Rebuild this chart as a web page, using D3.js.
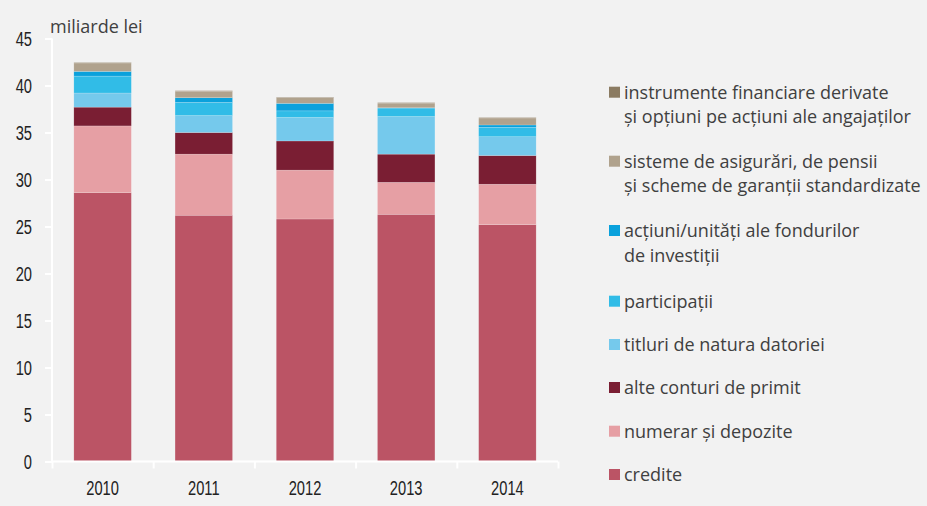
<!DOCTYPE html>
<meta charset="utf-8">
<head>
<style>
body {
  margin: 0;
  background: #fff;
}

svg {
  display: block;
  background: #f2f2f2;
}

.axis {
  font-family: 'Liberation Sans', Arial, sans-serif;
  font-size: 21px;
}

.axis path,
.axis line {
  fill: none;
  stroke: #fff;
  stroke-width: 2;
}

.axis text {
  fill: #222;
}

.legend text,
.unit {
  font-family: 'Open Sans', 'Noto Sans', sans-serif;
  font-size: 18px;
  fill: #404040;
}
</style>
</head>

<body>
<div id="chart"></div>

<script src="https://cdn.jsdelivr.net/npm/d3@7"></script>
<script>

var years = ["2010", "2011", "2012", "2013", "2014"];

// values in miliarde lei
var credite      = [28.6, 26.2, 25.8, 26.3, 25.2];
var numerar      = [7.1, 6.5, 5.2, 3.4, 4.3];
var alteConturi  = [2.0, 2.3, 3.1, 3.0, 3.05];
var titluri      = [1.5, 1.8, 2.5, 4.0, 2.0];
var participatii = [1.8, 1.4, 0.7, 0.9, 1.0];
var actiuniFond  = [0.5, 0.5, 0.8, 0.03, 0.25];
var sisteme      = [0.9, 0.7, 0.6, 0.5, 0.75];
var derivate     = [0.05, 0.05, 0.05, 0.05, 0.05];

var yTicks = [0, 5, 10, 15, 20, 25, 30, 35, 40, 45];

var series = [
  {key: "credite", values: credite, color: "#bb5465", label: ["credite"]},
  {key: "numerar", values: numerar, color: "#e69fa4", label: ["numerar și depozite"]},
  {key: "alte", values: alteConturi, color: "#7a1e33", label: ["alte conturi de primit"]},
  {key: "titluri", values: titluri, color: "#75c9ec", label: ["titluri de natura datoriei"]},
  {key: "participatii", values: participatii, color: "#31bce7", label: ["participații"]},
  {key: "actiuni", values: actiuniFond, color: "#0aa1dc", label: ["acțiuni/unități ale fondurilor", "de investiții"]},
  {key: "sisteme", values: sisteme, color: "#b0a28d", label: ["sisteme de asigurări, de pensii", "și scheme de garanții standardizate"]},
  {key: "derivate", values: derivate, color: "#8b7b62", label: ["instrumente financiare derivate", "și opțiuni pe acțiuni ale angajaților"]}
];

var width = 927, height = 506;

var svg = d3.select("#chart").append("svg")
    .attr("width", width)
    .attr("height", height);

var x = d3.scaleBand()
    .domain(years)
    .range([52, 558])
    .paddingInner(0.432)
    .paddingOuter(0.216);

var xEdges = d3.scaleLinear()
    .domain([0, years.length])
    .range([52, 558]);

var y = d3.scaleLinear()
    .domain([0, 45])
    .range([461.5, 38.5]);

var table = years.map(function(yr, i) {
  var row = {year: yr};
  series.forEach(function(s) { row[s.key] = s.values[i]; });
  return row;
});

var stack = d3.stack().keys(series.map(function(s) { return s.key; }));
var layers = stack(table);

svg.selectAll(".layer")
    .data(layers)
  .enter().append("g")
    .attr("class", "layer")
    .attr("fill", function(d, i) { return series[i].color; })
  .selectAll("rect")
    .data(function(d) { return d; })
  .enter().append("rect")
    .attr("x", function(d) { return x(d.data.year); })
    .attr("width", x.bandwidth())
    .attr("y", function(d) { return y(d[1]); })
    .attr("height", function(d) { return y(d[0]) - y(d[1]); })
    .attr("stroke", "#fff")
    .attr("stroke-opacity", 0.35)
    .attr("stroke-width", 0.5);

// y axis
var yAxis = svg.append("g")
    .attr("class", "y axis")
    .attr("transform", "translate(52,0)")
    .call(d3.axisLeft(y).tickValues(yTicks).tickSize(7).tickPadding(0));
yAxis.select(".domain").attr("d", "M0," + y(45) + "V" + y(0));
yAxis.selectAll("text")
    .attr("x", 0)
    .attr("transform", "translate(-20,0) scale(0.7,1)");

// x axis: labels under bars, ticks at category edges
var xAxis = svg.append("g")
    .attr("class", "x axis")
    .attr("transform", "translate(0," + y(0) + ")")
    .call(d3.axisBottom(x).tickSize(0).tickPadding(19));
xAxis.select(".domain").remove();
xAxis.selectAll("text")
    .attr("transform", "scale(0.7,1)");

var xTickAxis = svg.append("g")
    .attr("class", "x axis")
    .attr("transform", "translate(0," + y(0) + ")")
    .call(d3.axisBottom(xEdges).tickValues(d3.range(years.length + 1)).tickFormat("").tickSize(7).tickSizeOuter(0));
xTickAxis.select(".domain").attr("d", "M52,0H558");

svg.append("text")
    .attr("class", "unit")
    .attr("x", 50)
    .attr("y", 33)
    .text("miliarde lei");

// legend, top entry is the top of the stack
var legendRows = [92.7, 161.7, 231, 301.7, 345, 388, 431.7, 475];
var legendSeries = series.slice().reverse();

var legend = svg.append("g")
    .attr("class", "legend")
  .selectAll("g")
    .data(legendSeries)
  .enter().append("g")
    .attr("transform", function(d, i) { return "translate(609," + legendRows[i] + ")"; });

legend.append("rect")
    .attr("y", -6)
    .attr("width", 11)
    .attr("height", 11)
    .attr("fill", function(d) { return d.color; });

legend.append("text")
    .attr("x", 15)
    .attr("dy", "0.35em")
  .selectAll("tspan")
    .data(function(d) { return d.label; })
  .enter().append("tspan")
    .attr("x", 15)
    .attr("dy", function(d, i) { return i === 0 ? "0.35em" : "24.5px"; })
    .text(function(d) { return d; });

</script>
</body>
